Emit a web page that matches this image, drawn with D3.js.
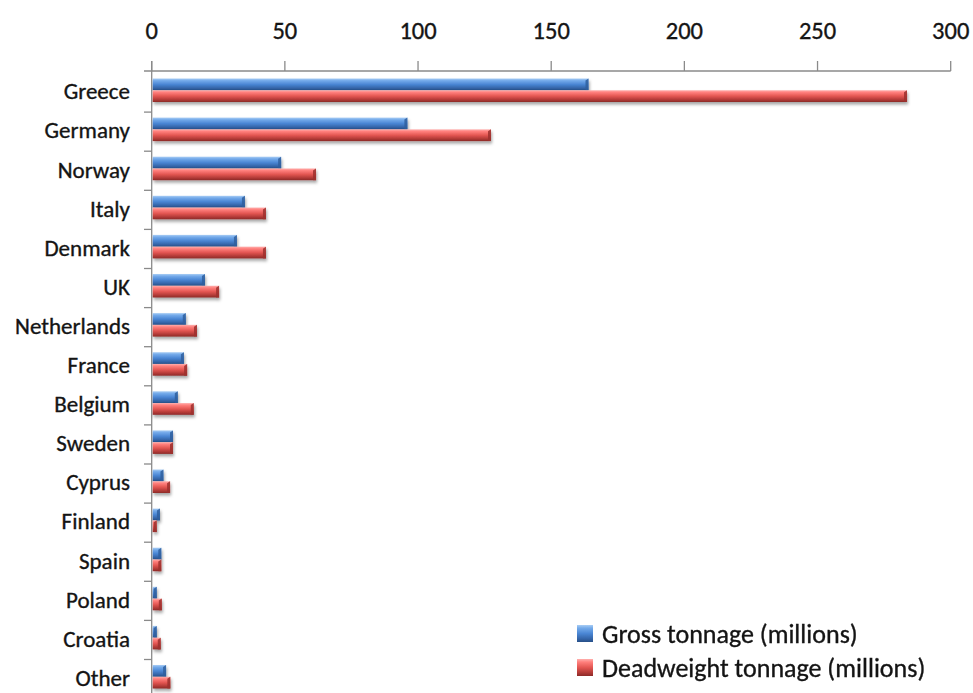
<!DOCTYPE html>
<html>
<head>
<meta charset="utf-8">
<script src="https://cdn.jsdelivr.net/npm/d3@7/dist/d3.min.js"></script>
<style>
  html, body { margin: 0; padding: 0; background: #fff; }
  svg { display: block; }
  text { font-family: Carlito, Lato, "Open Sans", sans-serif; fill: #141414; stroke: #141414; stroke-width: 0.35; }
</style>
</head>
<body>
<svg id="chart" width="973" height="693"></svg>
<script>
// Merchant fleet by owner country (millions of tonnes)
const countries = ["Greece", "Germany", "Norway", "Italy", "Denmark", "UK", "Netherlands",
  "France", "Belgium", "Sweden", "Cyprus", "Finland", "Spain", "Poland", "Croatia", "Other"];
const grossTonnage = [164, 96, 48.6, 35, 32, 20, 12.8, 12.1, 9.8, 8, 4.4, 3.1, 3.6, 1.9, 1.9, 5.4];
const deadweightTonnage = [283.6, 127.4, 61.7, 42.9, 42.9, 25.3, 17, 13.3, 15.8, 8, 6.9, 1.9, 3.6, 3.8, 3.4, 7];
const xTicks = [0, 50, 100, 150, 200, 250, 300];
const seriesNames = ["Gross tonnage (millions)", "Deadweight tonnage (millions)"];

const svg = d3.select("#chart");
const defs = svg.append("defs");

// cylinder-like shading for each series
function shade(id, stops) {
  const g = defs.append("linearGradient").attr("id", id)
    .attr("x1", 0).attr("y1", 0).attr("x2", 0).attr("y2", 1);
  stops.forEach(([o, c]) => g.append("stop").attr("offset", o).attr("stop-color", c));
}
shade("gBlue", [[0, "#a9cdf4"], [0.18, "#74aaea"], [0.5, "#4a86d4"], [0.8, "#3566aa"], [1, "#274f87"]]);
shade("gRed", [[0, "#ffb0ae"], [0.18, "#ff7f7c"], [0.5, "#e35652"], [0.8, "#b23a37"], [1, "#8c2a28"]]);

const shadow = defs.append("filter").attr("id", "shadow")
  .attr("x", "-5%").attr("y", "-30%").attr("width", "110%").attr("height", "180%");
shadow.append("feDropShadow").attr("dx", 1).attr("dy", 2.5)
  .attr("stdDeviation", 1.4).attr("flood-color", "#000").attr("flood-opacity", 0.35);

const axisY = 71;
const x = d3.scaleLinear().domain([0, 300]).range([151.7, 950.7]);
const y = d3.scaleBand().domain(countries).range([73, 698.6]).paddingInner(0).paddingOuter(0);
const sub = d3.scaleBand().domain(["gross", "dwt"]).range([5.5, 29]);
const axisColor = "#8a8a8a";

// top axis
const axisG = svg.append("g").attr("transform", `translate(0,${axisY})`);
axisG.append("line").attr("x1", 144).attr("x2", x(300)).attr("y1", 0).attr("y2", 0)
  .attr("stroke", axisColor).attr("stroke-width", 1.3);
axisG.selectAll("line.tick").data(xTicks).join("line").attr("class", "tick")
  .attr("x1", d => x(d)).attr("x2", d => x(d)).attr("y1", -10).attr("y2", 0)
  .attr("stroke", axisColor).attr("stroke-width", 1.3);
axisG.selectAll("text").data(xTicks).join("text")
  .attr("x", d => x(d)).attr("y", -32.5)
  .attr("text-anchor", "middle").attr("font-size", 24.5)
  .text(d => d);

// left axis
const yAxisG = svg.append("g");
yAxisG.append("line").attr("x1", x(0)).attr("x2", x(0)).attr("y1", axisY - 10).attr("y2", 693)
  .attr("stroke", axisColor).attr("stroke-width", 1.3);
yAxisG.selectAll("line.tick").data(countries.slice(1)).join("line").attr("class", "tick")
  .attr("x1", 144).attr("x2", x(0))
  .attr("y1", d => y(d)).attr("y2", d => y(d))
  .attr("stroke", axisColor).attr("stroke-width", 1.3);
yAxisG.selectAll("text").data(countries).join("text")
  .attr("x", 130).attr("y", d => y(d) + y.bandwidth() / 2 + 6.8)
  .attr("text-anchor", "end").attr("font-size", 23)
  .text(d => d);

// bars
const rows = countries.map((c, i) => ({ c, gross: grossTonnage[i], dwt: deadweightTonnage[i] }));
const barsG = svg.append("g");
const series = [
  { key: "gross", fill: "url(#gBlue)", cap: "#2f5f9e" },
  { key: "dwt", fill: "url(#gRed)", cap: "#9c302e" }
];
series.forEach(s => {
  const g = barsG.append("g").attr("filter", "url(#shadow)");
  rows.forEach(r => {
    const y0 = y(r.c) + sub(s.key);
    const h = sub.bandwidth();
    const x0 = x(0) + 1, x1 = x(r[s.key]);
    g.append("rect").attr("x", x0).attr("y", y0).attr("width", Math.max(0, x1 - x0))
      .attr("height", h).attr("fill", s.fill);
    // bevelled end cap
    g.append("path")
      .attr("d", `M${x1 - 3},${y0 + 2} L${x1},${y0} L${x1},${y0 + h} L${x1 - 3},${y0 + h} Z`)
      .attr("fill", s.cap).attr("opacity", 0.85);
  });
});

// legend
const legend = svg.append("g");
const legendFills = ["url(#gBlue)", "url(#gRed)"];
const legendBase = [643, 677];
seriesNames.forEach((n, i) => {
  legend.append("rect").attr("x", 577).attr("y", legendBase[i] - 18).attr("width", 16).attr("height", 17)
    .attr("fill", legendFills[i]);
  legend.append("text").attr("x", 602).attr("y", legendBase[i])
    .attr("font-size", 26).text(n);
});
</script>
</body>
</html>
